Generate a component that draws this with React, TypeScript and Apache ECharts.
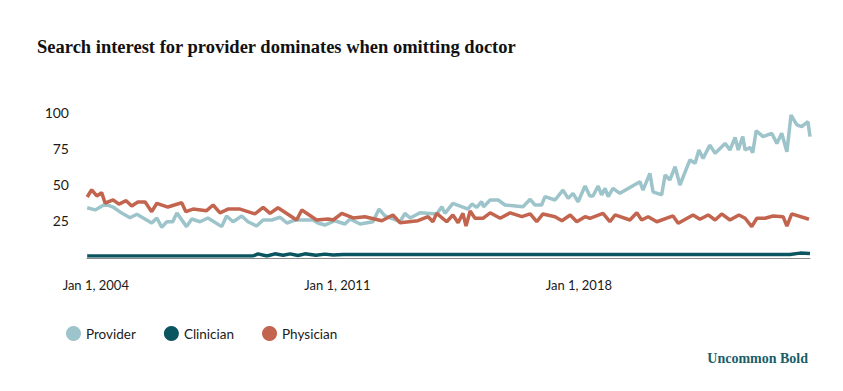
import React, { useEffect, useRef } from "react";
import * as echarts from "echarts";

const seriesNames = ["Provider", "Clinician", "Physician"];
const seriesColors = ["#9CC4CA", "#0B5561", "#C3644F"];
const xTickYears = [2004, 2011, 2018];
const yTicks = [25, 50, 75, 100];

const providerData: [number, number][] = [
  [2003.75, 33.5], [2003.98, 32], [2004.27, 36], [2004.5, 34], [2004.75, 29.8], [2004.99, 26.6],
  [2005.19, 29], [2005.62, 22.9], [2005.77, 26.4], [2005.91, 20], [2006.06, 23.8], [2006.23, 23.8],
  [2006.35, 29.8], [2006.63, 20.4], [2006.78, 25.7], [2007.02, 23.8], [2007.25, 26.4], [2007.65, 20.4],
  [2007.79, 27.8], [2007.98, 23.8], [2008.23, 27.8], [2008.41, 23.8], [2008.66, 20.8], [2008.85, 25],
  [2009.1, 25], [2009.34, 26.9], [2009.54, 22.9], [2009.77, 25], [2010.3, 25], [2010.44, 22.9],
  [2010.64, 21.5], [2010.93, 24.5], [2011.22, 22.2], [2011.37, 25.7], [2011.66, 22.2], [2012.03, 23.8],
  [2012.21, 32.6], [2012.38, 27.8], [2012.82, 23.8], [2012.96, 29.6], [2013.11, 26.4], [2013.4, 30],
  [2013.88, 29.2], [2014.03, 34.2], [2014.12, 29.6], [2014.35, 36.6], [2014.79, 32.6], [2014.9, 36.1],
  [2015.04, 33.8], [2015.18, 37.7], [2015.24, 34.2], [2015.43, 38.9], [2015.66, 38.9], [2015.86, 35.4],
  [2016.38, 34.2], [2016.59, 39.4], [2016.73, 35.4], [2016.92, 35.4], [2017.02, 41.2], [2017.31, 38.9],
  [2017.54, 45.8], [2017.69, 40], [2017.83, 43.5], [2017.98, 37.7], [2018.18, 48.6], [2018.32, 41.7],
  [2018.41, 41.7], [2018.56, 48.6], [2018.66, 42.4], [2018.76, 47], [2018.85, 41.2], [2018.99, 47],
  [2019.19, 43.5], [2019.77, 51.6], [2019.86, 45.8], [2020.06, 57.4], [2020.15, 44.6], [2020.4, 42.4],
  [2020.5, 56.2], [2020.64, 52.8], [2020.79, 62], [2020.93, 49.3], [2021.22, 66.7], [2021.37, 64.4],
  [2021.48, 73.6], [2021.6, 67.8], [2021.8, 77], [2021.95, 71.3], [2022.24, 78.2], [2022.38, 73.6],
  [2022.53, 82.4], [2022.62, 73.6], [2022.75, 82.9], [2022.82, 73.6], [2022.96, 75.4], [2023.04, 71.7],
  [2023.14, 87], [2023.34, 82.9], [2023.59, 85.2], [2023.74, 78.2], [2023.88, 85.2], [2024.03, 72.4],
  [2024.15, 97.9], [2024.32, 91], [2024.46, 89.8], [2024.64, 93.3], [2024.7, 82.9],
];

const clinicianData: [number, number][] = [
  [2003.75, 0], [2008.56, 0], [2008.7, 1.5], [2008.96, 0], [2009.19, 1.5], [2009.43, 0.5],
  [2009.63, 1.5], [2009.86, 0.3], [2010.06, 1.5], [2010.38, 0.5], [2010.64, 1.3], [2010.88, 0.7],
  [2011.17, 1], [2024.12, 1], [2024.41, 2], [2024.7, 1.7],
];

const physicianData: [number, number][] = [
  [2003.75, 41], [2003.88, 46], [2004.03, 41.7], [2004.17, 44], [2004.27, 36.8], [2004.5, 39],
  [2004.67, 36], [2004.88, 38.4], [2005.04, 34.7], [2005.22, 37.5], [2005.43, 37.5], [2005.62, 30.8],
  [2005.77, 36.6], [2006.09, 34], [2006.49, 37], [2006.61, 30.8], [2006.82, 32.6], [2007.21, 31.5],
  [2007.4, 35.4], [2007.6, 30], [2007.83, 32.6], [2008.18, 32.6], [2008.61, 29.2], [2008.85, 33.8],
  [2009.05, 29.6], [2009.28, 33.5], [2009.82, 25], [2009.97, 31.9], [2010.4, 25], [2010.73, 25.7],
  [2010.88, 25], [2011.13, 29.6], [2011.46, 26.4], [2011.8, 27.3], [2012.29, 24.5], [2012.61, 28.5],
  [2012.82, 23.1], [2013.34, 24.5], [2013.63, 27.3], [2013.77, 23.8], [2013.88, 29.6], [2014.17, 23.8],
  [2014.35, 28.5], [2014.5, 23.1], [2014.64, 29.6], [2014.73, 20.8], [2014.85, 31.2], [2014.99, 26.2],
  [2015.22, 26.2], [2015.43, 30], [2015.72, 26.2], [2016.01, 30], [2016.35, 27.3], [2016.59, 29.2],
  [2016.78, 23.8], [2016.96, 29.2], [2017.31, 27.3], [2017.51, 24.5], [2017.75, 28.5], [2017.94, 23.8],
  [2018.18, 27.3], [2018.32, 26.2], [2018.7, 29.6], [2018.9, 23.8], [2019.05, 28.5], [2019.48, 25],
  [2019.68, 30], [2019.82, 25], [2020.01, 27.3], [2020.26, 23.8], [2020.73, 27.8], [2020.88, 22.7],
  [2021.31, 28.5], [2021.51, 25.5], [2021.75, 28.5], [2021.95, 25], [2022.14, 29.2], [2022.38, 25],
  [2022.64, 28.5], [2022.82, 26.2], [2023.01, 20.4], [2023.16, 26.2], [2023.4, 26.2], [2023.63, 27.8],
  [2023.92, 27.3], [2024.03, 20.8], [2024.17, 29.2], [2024.67, 25.5],
];

const allData = [providerData, clinicianData, physicianData];

export default function App() {
  const ref = useRef<HTMLDivElement>(null);
  useEffect(() => {
    if (!ref.current) return;
    const chart = echarts.init(ref.current, undefined, { renderer: "svg" });
    chart.setOption({
      animation: false,
      backgroundColor: "#ffffff",
      grid: { left: 87, right: 33, top: 112, bottom: 135, containLabel: false },
      xAxis: {
        type: "value",
        min: 2003.745,
        max: 2024.7,
        offset: 2,
        splitLine: { show: false },
        axisTick: { show: false },
        axisLine: { show: true, onZero: false, lineStyle: { color: "#8a8a8a", width: 1 } },
        axisLabel: {
          customValues: xTickYears,
          formatter: (v: number) => "Jan 1, " + Math.round(v),
          margin: 20,
          color: "#1a1a1a",
          fontFamily: "Lato",
          fontSize: 13,
        },
      },
      yAxis: {
        type: "value",
        min: 0,
        max: 100,
        interval: 25,
        splitLine: { show: false },
        axisLine: { show: false },
        axisTick: { show: false },
        axisLabel: {
          customValues: yTicks,
          margin: 18,
          color: "#1a1a1a",
          fontFamily: "Lato",
          fontSize: 14,
        },
      },
      legend: {
        left: 61,
        top: 321,
        icon: "circle",
        itemWidth: 15,
        itemHeight: 15,
        itemGap: 28,
        data: seriesNames,
        textStyle: { color: "#1a1a1a", fontFamily: "Lato", fontSize: 13.5 },
      },
      graphic: [
        {
          type: "text",
          x: 37,
          y: 47,
          style: {
            text: "Search interest for provider dominates when omitting doctor",
            font: "bold 18.5px 'Liberation Serif'",
            fill: "#111111",
            verticalAlign: "middle",
          },
        },
        {
          type: "text",
          x: 808,
          y: 358,
          style: {
            text: "Uncommon Bold",
            font: "bold 14px 'Liberation Serif'",
            fill: "#1B5E69",
            align: "right",
            verticalAlign: "middle",
          },
        },
      ],
      series: seriesNames.map((name, i) => ({
        name,
        type: "line",
        data: allData[i],
        showSymbol: false,
        symbol: "circle",
        lineStyle: { width: 3.5, color: seriesColors[i] },
        itemStyle: { color: seriesColors[i] },
        z: i === 1 ? 3 : 2,
      })),
    });
    return () => chart.dispose();
  }, []);
  return (
    <div
      ref={ref}
      style={{ position: "fixed", left: 0, top: 0, width: 843, height: 391 }}
    />
  );
}
